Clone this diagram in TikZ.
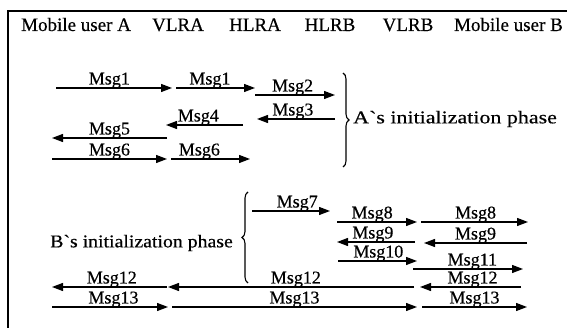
\documentclass[tikz,border=0pt]{standalone}
\usepackage{fontspec}
\usepackage{graphicx}
\setmainfont{Liberation Serif}[FakeBold=0.45]
\usetikzlibrary{arrows.meta,decorations.pathreplacing}
\begin{document}
\begin{tikzpicture}[x=1pt,y=-1pt,
  msg/.style={line width=1.3pt,-{Triangle[length=11pt,width=8pt]}},
  lbl/.style={anchor=base,inner sep=0pt,yshift=3.5pt,font=\fontsize{18}{21}\selectfont},
  head/.style={inner sep=0pt,font=\fontsize{19}{22}\selectfont},
  frame/.style={line width=1.3pt},
  phasebrace/.style={decorate,decoration={brace,amplitude=6pt},line width=1.1pt},
  phase/.style={inner sep=0pt,font=\fontsize{18}{21}\selectfont}]
\useasboundingbox (0,0) rectangle (567,328);

% open frame: top and left rules
\coordinate (fr-tr) at (567,11);
\coordinate (fr-tl) at (8,11);
\coordinate (fr-bl) at (8,328);
\draw[frame] (fr-tr) -- (fr-tl) -- (fr-bl);

% entity headings
\node[head,anchor=base west] (ua) at (21,31) {Mobile user A};
\node[head,anchor=base] (vlra) at (178,31) {VLRA};
\node[head,anchor=base] (hlra) at (255,31) {HLRA};
\node[head,anchor=base] (hlrb) at (330,31) {HLRB};
\node[head,anchor=base] (vlrb) at (408,31) {VLRB};
\node[head,anchor=base east] (ub) at (563,31) {Mobile user B};

% ---- A's initialization phase ----
\coordinate (a1s) at (56,88);   \coordinate (a1e) at (172,88);
\coordinate (b1s) at (176,88);  \coordinate (b1e) at (255,88);
\coordinate (a2s) at (255,95);  \coordinate (a2e) at (335,95);
\coordinate (a3s) at (335,119); \coordinate (a3e) at (257,119);
\coordinate (a4s) at (243,125); \coordinate (a4e) at (166,125);
\coordinate (a5s) at (167,138); \coordinate (a5e) at (52,138);
\coordinate (a6s) at (52,159);  \coordinate (a6e) at (167,159);
\coordinate (b6s) at (171,159); \coordinate (b6e) at (250,159);

\draw[msg] (a1s) -- node[lbl,pos=0.46] {Msg1} (a1e);
\draw[msg] (b1s) -- node[lbl,pos=0.43] {Msg1} (b1e);
\draw[msg] (a2s) -- node[lbl,pos=0.47] {Msg2} (a2e);
\draw[msg] (a3s) -- node[lbl,pos=0.54] {Msg3} (a3e);
\draw[msg] (a4s) -- node[lbl,pos=0.58] {Msg4} (a4e);
\draw[msg] (a5s) -- node[lbl,pos=0.50] {Msg5} (a5e);
\draw[msg] (a6s) -- node[lbl,pos=0.50] {Msg6} (a6e);
\draw[msg] (b6s) -- node[lbl,pos=0.36] {Msg6} (b6e);

\coordinate (bra-t) at (343,73);
\coordinate (bra-b) at (343,167);
\draw[phasebrace] (bra-t) -- (bra-b);
\node[phase,anchor=west] (phA) at (353,119)
  {\scalebox{1.22}[1]{A\textasciigrave s initialization phase}};

% ---- B's initialization phase ----
\coordinate (c7s) at (252,211);  \coordinate (c7e) at (330,211);
\coordinate (c8s) at (337,222);  \coordinate (c8e) at (417,222);
\coordinate (d8s) at (421,222);  \coordinate (d8e) at (528,222);
\coordinate (c9s) at (415,242);  \coordinate (c9e) at (337,242);
\coordinate (d9s) at (527,243);  \coordinate (d9e) at (424,243);
\coordinate (c10s) at (338,261); \coordinate (c10e) at (417,261);
\coordinate (d11s) at (413,269); \coordinate (d11e) at (523,269);
\coordinate (d12s) at (521,287); \coordinate (d12e) at (420,287);
\coordinate (c12s) at (414,287); \coordinate (c12e) at (168,287);
\coordinate (b12s) at (167,287); \coordinate (b12e) at (52,287);
\coordinate (b13s) at (52,307);  \coordinate (b13e) at (168,307);
\coordinate (c13s) at (172,307); \coordinate (c13e) at (417,307);
\coordinate (d13s) at (422,307); \coordinate (d13e) at (527,307);

\draw[msg] (c7s) -- node[lbl,pos=0.58] {Msg7} (c7e);
\draw[msg] (c8s) -- node[lbl,pos=0.44] {Msg8} (c8e);
\draw[msg] (d8s) -- node[lbl,pos=0.51] {Msg8} (d8e);
\draw[msg] (c9s) -- node[lbl,pos=0.54] {Msg9} (c9e);
\draw[msg] (d9s) -- node[lbl,pos=0.50] {Msg9} (d9e);
\draw[msg] (c10s) -- node[lbl,pos=0.51] {Msg10} (c10e);
\draw[msg] (d11s) -- node[lbl,pos=0.54] {Msg11} (d11e);
\draw[msg] (d12s) -- node[lbl,pos=0.48] {Msg12} (d12e);
\draw[msg] (c12s) -- node[lbl,pos=0.48] {Msg12} (c12e);
\draw[msg] (b12s) -- node[lbl,pos=0.48] {Msg12} (b12e);
\draw[msg] (b13s) -- node[lbl,pos=0.53] {Msg13} (b13e);
\draw[msg] (c13s) -- node[lbl,pos=0.50] {Msg13} (c13e);
\draw[msg] (d13s) -- node[lbl,pos=0.50] {Msg13} (d13e);

\coordinate (brb-b) at (248,283);
\coordinate (brb-t) at (248,192);
\draw[phasebrace] (brb-b) -- (brb-t);
\node[phase,anchor=east] (phB) at (233,243)
  {\scalebox{1.1}[1]{B\textasciigrave s initialization phase}};
\end{tikzpicture}
\end{document}
